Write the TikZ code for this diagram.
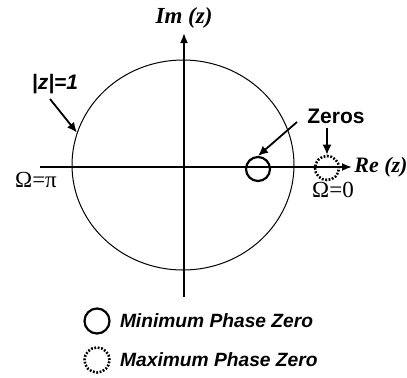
\documentclass[tikz,border=0pt]{standalone}
\usepackage{fontspec}
\setmainfont{Liberation Serif}
\setsansfont{Liberation Sans}
\usetikzlibrary{positioning,calc,arrows.meta,shapes.geometric}

\begin{document}
\begin{tikzpicture}[x=0.5pt,y=-0.5pt,
  axis/.style={line width=0.9pt,-{Latex[length=5pt,width=4pt]}},
  pointer/.style={line width=0.9pt,-{Latex[length=5pt,width=4.5pt]}},
  minzero/.style={circle,draw,line width=1.1pt,minimum size=12pt,inner sep=0pt},
  maxzero/.style={minzero,line width=1.3pt,dash pattern=on 0.9pt off 0.8pt},
  serlabel/.style={font=\fontsize{11}{13}\selectfont\bfseries\itshape,inner sep=0pt},
  sanlabel/.style={font=\fontsize{10.5}{12}\selectfont\sffamily\bfseries,inner sep=0pt}]
\useasboundingbox (0,0) rectangle (407,377);
% unit circle
\node[ellipse,draw,line width=0.5pt,minimum width=111pt,minimum height=105pt,inner sep=0pt] (uc) at (183,165) {};
% axes
\coordinate (re0) at (40,167); \coordinate (re1) at (352,167);
\coordinate (im0) at (184,297); \coordinate (im1) at (184,33);
\draw[axis] (re0) -- (re1);
\draw[axis] (im0) -- (im1);
\node[serlabel,anchor=west] (re) at (354,167) {Re (z)};
\node[serlabel,font=\fontsize{11.5}{13}\selectfont\bfseries\itshape] (im) at (184,18) {Im (z)};
\node[font=\fontsize{11.5}{13}\selectfont,inner sep=0pt] (wpi) at (36,180) {Ω=π};
\node[font=\fontsize{11.5}{13}\selectfont,inner sep=0pt] (w0) at (333,190) {Ω=0};
% zeros
\node[minzero] (minz) at (258,169) {};
\node[maxzero] (maxz) at (327,168) {};
\node[sanlabel] (zeros) at (336,116) {Zeros};
\draw[pointer] (297,122) -- (minz.north);
\draw[pointer] (zeros.south -| maxz) ++(0,4) -- (maxz.north);
% |z|=1
\node[sanlabel,font=\fontsize{10.5}{12}\selectfont\sffamily\bfseries\itshape] (unit) at (55,84) {|z|=1};
\draw[pointer] (50,99) -- (uc.163);
% legend
\foreach \st/\y/\txt in {minzero/321/Minimum Phase Zero,maxzero/360/Maximum Phase Zero}{
  \node[\st,minimum size=12.5pt] (leg\st) at (97,\y) {};
  \node[sanlabel,font=\fontsize{9.6}{12}\selectfont\sffamily\bfseries\itshape,right=4.5pt of leg\st] {\txt};
}
\end{tikzpicture}
\end{document}
